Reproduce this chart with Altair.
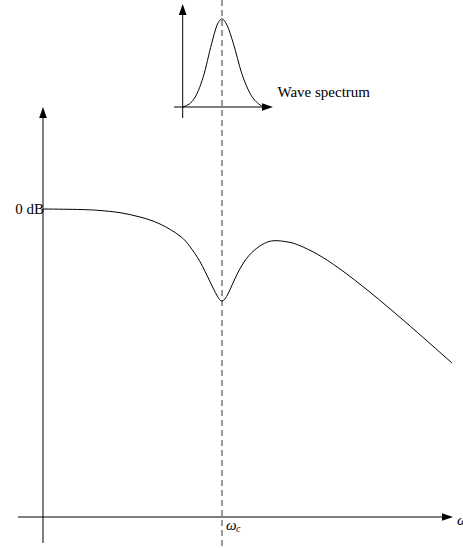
import altair as alt
import pandas as pd

# Loop gain magnitude against frequency (ω normalised so that ωc = 1)
omega = [0.0, 0.2067, 0.3184, 0.4302, 0.5419, 0.6536, 0.7654, 0.8212, 0.8771,
         0.9330, 0.9704, 1.0, 1.0352, 1.0821, 1.1380, 1.1939, 1.2497, 1.3073,
         1.3799, 1.4358, 1.5307, 1.6592, 1.8268, 2.0112, 2.1620, 2.2849]
gain_db = [0.0, -0.1, -0.3, -0.74, -1.6, -3.0, -5.4, -7.54, -10.54,
           -14.54, -17.2, -18.4, -16.86, -13.2, -9.86, -7.86, -6.66, -6.34,
           -6.68, -7.34, -9.0, -12.0, -16.64, -22.18, -26.9, -30.8]

# Wave spectrum sketched above the plot, peaking at ωc
spec_omega = [0.7804, 0.8397, 0.8955, 0.9425, 0.9721, 1.0, 1.028, 1.0631,
              1.1101, 1.1564, 1.2123, 1.2307]
spec_level = [0.0, 0.08, 0.344, 0.724, 0.93, 1.0, 0.93, 0.724,
              0.383, 0.156, 0.023, 0.0]

omega_c = 1.0

# Extents of the hand-drawn axes (frequency / dB / spectrum units)
main_axis = {"x_from": -0.1397, "x_to": 2.26, "y_at": -61.6,
             "y_from": -66.8, "y_to": 19.0}
main_tips = {"x_tip": 2.2598, "y_tip": 19.3}
inset_axis = {"x_from": 0.7318, "x_to": 1.26, "x_at": 0.7804,
              "y_from": -0.125, "y_to": 1.10}
inset_tips = {"x_tip": 1.2542, "y_tip": 1.108}

W, H = 463, 548
FONT = "Liberation Serif"

x_scale = alt.Scale(domain=[-43 / 179, 420 / 179], nice=False, zero=False)
db_scale = alt.Scale(domain=[-67.8, 41.8], nice=False, zero=False)
sp_scale = alt.Scale(domain=[(107 - 548) / 88, 107 / 88], nice=False, zero=False)


def X(field):
    return alt.X(field, type="quantitative", scale=x_scale, axis=None)


def Ydb(field):
    return alt.Y(field, type="quantitative", scale=db_scale, axis=None)


def Ysp(field):
    return alt.Y(field, type="quantitative", scale=sp_scale, axis=None)


gain = pd.DataFrame({"w": omega, "g": gain_db})
spec = pd.DataFrame({"w": spec_omega, "s": spec_level})

gain_line = alt.Chart(gain).mark_line(
    color="black", strokeWidth=1, interpolate="natural"
).encode(x=X("w"), y=Ydb("g"))

spec_line = alt.Chart(spec).mark_line(
    color="black", strokeWidth=1, interpolate="monotone"
).encode(x=X("w"), y=Ysp("s"))

crossover = alt.Chart(pd.DataFrame({"w": [omega_c]})).mark_rule(
    color="#333333", strokeWidth=1, strokeDash=[6, 4]
).encode(x=X("w"))

# Main axes
main_h = alt.Chart(pd.DataFrame({
    "x1": [main_axis["x_from"]], "x2": [main_axis["x_to"]], "y": [main_axis["y_at"]]
})).mark_rule(color="black", strokeWidth=1).encode(
    x=X("x1"), x2="x2:Q", y=Ydb("y"))
main_v = alt.Chart(pd.DataFrame({
    "x": [0.0], "y1": [main_axis["y_from"]], "y2": [main_axis["y_to"]]
})).mark_rule(color="black", strokeWidth=1).encode(
    x=X("x"), y=Ydb("y1"), y2="y2:Q")

# Inset axes
inset_h = alt.Chart(pd.DataFrame({
    "x1": [inset_axis["x_from"]], "x2": [inset_axis["x_to"]], "y": [0.0]
})).mark_rule(color="black", strokeWidth=1).encode(
    x=X("x1"), x2="x2:Q", y=Ysp("y"))
inset_v = alt.Chart(pd.DataFrame({
    "x": [inset_axis["x_at"]], "y1": [inset_axis["y_from"]], "y2": [inset_axis["y_to"]]
})).mark_rule(color="black", strokeWidth=1).encode(
    x=X("x"), y=Ysp("y1"), y2="y2:Q")

UP = "M0,-1 L0.7,1 L-0.7,1 Z"
RIGHT = "M1,0 L-1,0.7 L-1,-0.7 Z"


def head(df, yenc, shape):
    return alt.Chart(df).mark_point(
        shape=shape, size=121, filled=True, color="black", opacity=1, strokeWidth=0
    ).encode(x=X("x"), y=yenc)


heads = [
    head(pd.DataFrame({"x": [0.0], "y": [main_tips["y_tip"]]}), Ydb("y"), UP),
    head(pd.DataFrame({"x": [main_tips["x_tip"]], "y": [main_axis["y_at"]]}), Ydb("y"), RIGHT),
    head(pd.DataFrame({"x": [inset_axis["x_at"]], "y": [inset_tips["y_tip"]]}), Ysp("y"), UP),
    head(pd.DataFrame({"x": [inset_tips["x_tip"]], "y": [0.0]}), Ysp("y"), RIGHT),
]

zero_db = alt.Chart(pd.DataFrame({"x": [0.0], "y": [0.0], "t": ["0 dB"]})).mark_text(
    font=FONT, fontSize=15, align="right", baseline="middle", dx=1, color="black"
).encode(x=X("x"), y=Ydb("y"), text="t:N")

spec_label = alt.Chart(pd.DataFrame({"x": [1.31], "y": [0.17], "t": ["Wave spectrum"]})).mark_text(
    font=FONT, fontSize=15, align="left", baseline="middle", color="black"
).encode(x=X("x"), y=Ysp("y"), text="t:N")

wc_label = alt.Chart(pd.DataFrame({"x": [omega_c], "y": [main_axis["y_at"]], "t": ["ω"]})).mark_text(
    font=FONT, fontSize=15, fontStyle="italic", align="left", baseline="alphabetic",
    dx=4, dy=13, color="black"
).encode(x=X("x"), y=Ydb("y"), text="t:N")
wc_sub = alt.Chart(pd.DataFrame({"x": [omega_c], "y": [main_axis["y_at"]], "t": ["c"]})).mark_text(
    font=FONT, fontSize=10, fontStyle="italic", align="left", baseline="alphabetic",
    dx=14, dy=15, color="black"
).encode(x=X("x"), y=Ydb("y"), text="t:N")

w_axis_label = alt.Chart(pd.DataFrame({"x": [2.3128], "y": [main_axis["y_at"]], "t": ["ω"]})).mark_text(
    font=FONT, fontSize=15, fontStyle="italic", align="left", baseline="alphabetic",
    dy=8, color="black"
).encode(x=X("x"), y=Ydb("y"), text="t:N")

chart = alt.layer(
    crossover, main_h, main_v, inset_h, inset_v, gain_line, spec_line, *heads,
    zero_db, spec_label, wc_label, wc_sub, w_axis_label
).resolve_scale(y="independent").properties(
    width=W, height=H, padding=0,
    autosize=alt.AutoSizeParams(type="none"),
).configure_view(stroke=None)

chart.save("out.html", embed_options={"renderer": "svg", "actions": False})
